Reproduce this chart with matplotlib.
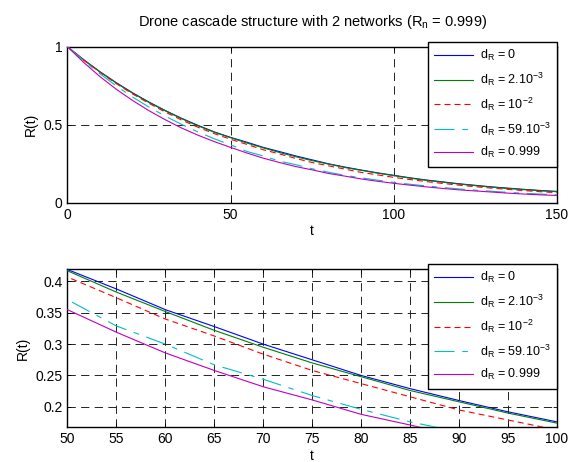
import numpy as np
import matplotlib
matplotlib.use("Agg")
import matplotlib.pyplot as plt

plt.rcParams["font.family"] = ["Liberation Sans", "DejaVu Sans"]
plt.rcParams["mathtext.fontset"] = "custom"
plt.rcParams["mathtext.rm"] = "Liberation Sans"
plt.rcParams["mathtext.it"] = "Liberation Sans"
plt.rcParams["mathtext.default"] = "regular"
plt.rcParams["font.size"] = 10

# time samples (read every 5 units)
t = [0, 5, 10, 15, 20, 25, 30, 35, 40, 45, 50, 55, 60, 65, 70, 75, 80, 85, 90,
     95, 100, 105, 110, 115, 120, 125, 130, 135, 140, 145, 150]

# reliability curves
r_d0 = [1.000, 0.916, 0.839, 0.769, 0.704, 0.645, 0.591, 0.541, 0.496, 0.454,
        0.419, 0.388, 0.355, 0.328, 0.300, 0.275, 0.250, 0.229, 0.210, 0.192,
        0.176, 0.160, 0.146, 0.134, 0.122, 0.112, 0.102, 0.094, 0.086, 0.079, 0.073]
r_d2e3 = [1.000, 0.915, 0.838, 0.767, 0.702, 0.643, 0.589, 0.539, 0.493, 0.452,
          0.417, 0.383, 0.352, 0.322, 0.295, 0.270, 0.248, 0.226, 0.208, 0.190,
          0.174, 0.158, 0.144, 0.132, 0.120, 0.110, 0.100, 0.092, 0.084, 0.077, 0.071]
r_d1e2 = [1.000, 0.914, 0.835, 0.763, 0.697, 0.637, 0.581, 0.530, 0.484, 0.443,
          0.407, 0.374, 0.340, 0.313, 0.284, 0.258, 0.237, 0.216, 0.195, 0.179,
          0.163, 0.149, 0.136, 0.124, 0.113, 0.103, 0.094, 0.086, 0.078, 0.071, 0.065]
r_d59e3 = [1.000, 0.910, 0.826, 0.748, 0.677, 0.613, 0.555, 0.502, 0.454, 0.410,
           0.371, 0.329, 0.300, 0.267, 0.244, 0.218, 0.196, 0.176, 0.160, 0.145,
           0.131, 0.119, 0.108, 0.098, 0.089, 0.081, 0.074, 0.067, 0.061, 0.056, 0.051]
r_d999 = [1.000, 0.899, 0.808, 0.727, 0.655, 0.590, 0.532, 0.479, 0.433, 0.392,
          0.355, 0.319, 0.286, 0.258, 0.232, 0.211, 0.188, 0.171, 0.153, 0.138,
          0.125, 0.113, 0.102, 0.092, 0.083, 0.076, 0.069, 0.062, 0.056, 0.051, 0.047]

labels = ["d$_R$ = 0", "d$_R$ = 2.10$^{-3}$", "d$_R$ = 10$^{-2}$",
          "d$_R$ = 59.10$^{-3}$", "d$_R$ = 0.999"]
series = [r_d0, r_d2e3, r_d1e2, r_d59e3, r_d999]
colors = ["#0000ff", "#008000", "#ff0000", "#00bfbf", "#bf00bf"]
dashes = [None, None, (5.4, 3.6), (18, 7, 5, 7), None]

fig = plt.figure(figsize=(5.76, 4.62), dpi=100)
ax1 = fig.add_axes([0.117, 0.561, 0.850, 0.338])
ax2 = fig.add_axes([0.117, 0.076, 0.850, 0.342])


def draw(ax):
    for y, lab, c, d in zip(series, labels, colors, dashes):
        line, = ax.plot(t, y, color=c, lw=0.8, label=lab, zorder=3)
        if d is not None:
            line.set_dashes(d)
    ax.grid(True, color="#222222", linestyle=(0, (8.5, 5.5)), linewidth=0.7,
            zorder=1)
    ax.set_axisbelow(True)
    ax.tick_params(direction="in", top=True, right=True, length=3, width=0.6,
                   labelsize=10)
    for s in ax.spines.values():
        s.set_linewidth(1.0)
    ax.set_xlabel("t", labelpad=2)
    ax.set_ylabel("R(t)", labelpad=4)
    leg = ax.legend(loc="upper right", bbox_to_anchor=(1.0, 1.03),
                    fancybox=False, framealpha=1, edgecolor="k",
                    handlelength=3.1, labelspacing=0.6, borderpad=0.5,
                    handletextpad=0.6, fontsize=9, borderaxespad=0)
    leg.get_frame().set_linewidth(1.0)
    leg.set_zorder(5)


draw(ax1)
ax1.set_xlim(0, 150)
ax1.set_ylim(0, 1)
ax1.set_xticks([0, 50, 100, 150])
ax1.set_yticks([0, 0.5, 1])
ax1.set_yticklabels(["0", "0.5", "1"])
ax1.set_title("Drone cascade structure with 2 networks (R$_n$ = 0.999)",
              fontsize=10.5, pad=15)

draw(ax2)
ax2.set_xlim(50, 100)
ax2.set_ylim(0.168, 0.42)
ax2.set_xticks(np.arange(50, 101, 5))
ax2.set_yticks([0.2, 0.25, 0.3, 0.35, 0.4])
ax2.set_yticklabels(["0.2", "0.25", "0.3", "0.35", "0.4"])

fig.savefig("out.png", dpi=100)
